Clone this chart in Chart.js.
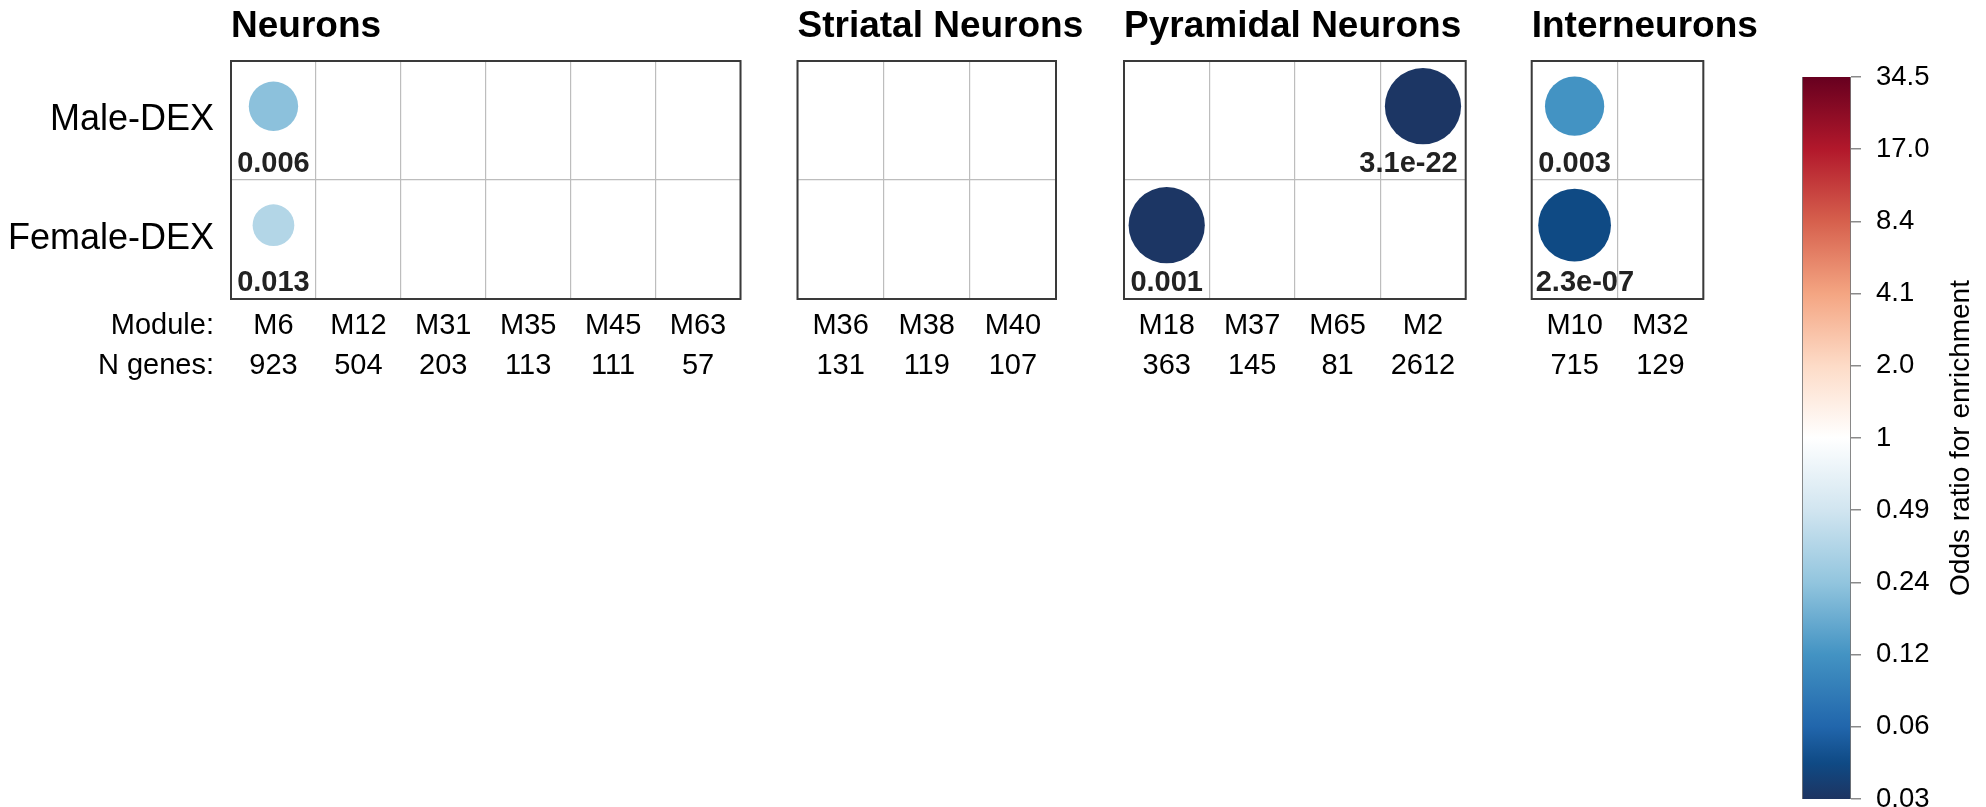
<!DOCTYPE html>
<html>
<head>
<meta charset="utf-8">
<title>Module enrichment by cell type</title>
<script src="https://cdn.jsdelivr.net/npm/chart.js@4.4.1/dist/chart.umd.min.js"></script>
<style>
  html, body { margin: 0; padding: 0; background: #ffffff; }
  #stage { position: relative; width: 1986px; height: 807px; overflow: hidden; background: #ffffff; }
  #stage canvas { position: absolute; top: 0; }
</style>
</head>
<body>
<div id="stage"></div>
<script>
// ---------------- data ----------------
const rowNames = ['Male-DEX', 'Female-DEX'];
const rowHeaderLabels = ['Module:', 'N genes:'];

const panelTitles = ['Neurons', 'Striatal Neurons', 'Pyramidal Neurons', 'Interneurons'];

const neuronModules = ['M6', 'M12', 'M31', 'M35', 'M45', 'M63'];
const neuronGenes = [923, 504, 203, 113, 111, 57];

const striatalModules = ['M36', 'M38', 'M40'];
const striatalGenes = [131, 119, 107];

const pyramidalModules = ['M18', 'M37', 'M65', 'M2'];
const pyramidalGenes = [363, 145, 81, 2612];

const interModules = ['M10', 'M32'];
const interGenes = [715, 129];

// significant overlaps: module, comparison, odds ratio, p-value
const hitModules = ['M6', 'M6', 'M2', 'M18', 'M10', 'M10'];
const hitRows = ['Male-DEX', 'Female-DEX', 'Male-DEX', 'Female-DEX', 'Male-DEX', 'Female-DEX'];
const hitOddsRatios = [0.23, 0.35, 0.03, 0.03, 0.12, 0.041];
const hitPValues = ['0.006', '0.013', '3.1e-22', '0.001', '0.003', '2.3e-07'];

const colorbarLabels = ['34.5', '17.0', '8.4', '4.1', '2.0', '1', '0.49', '0.24', '0.12', '0.06', '0.03'];
const colorbarTitle = 'Odds ratio for enrichment';

// ---------------- styling ----------------
const FONT = "'Liberation Sans', Arial, Helvetica, sans-serif";
// diverging colour ramp, low odds ratio (blue, 0) to high (red, 1)
const colorStops = [
  [0.00, '#1d3461'], [0.05, '#0f4a85'], [0.10, '#2166ac'], [0.20, '#4393c3'],
  [0.30, '#92c5de'], [0.40, '#d1e5f0'], [0.50, '#ffffff'], [0.60, '#fddbc7'],
  [0.70, '#f4a582'], [0.80, '#d6604d'], [0.90, '#b2182b'], [1.00, '#67001f']
];
const BUBBLE_MAX_R = 38.3;   // px radius at the colour-scale limit
const BUBBLE_LIFT = 0.12;    // bubbles sit slightly above row centre, p-value underneath
const LABEL_GAP = 8.5;       // p-value baseline above the row's lower edge
const GRID_COLOR = '#bdbdbd';
const FRAME_COLOR = '#3a3a3a';
const CANVAS_H = 420;
const PLOT_TOP = 61;
const PLOT_BOTTOM = 299;

const panels = [
  { title: panelTitles[0], modules: neuronModules,    genes: neuronGenes,    left: 231,    right: 740.5,  axisW: 231 },
  { title: panelTitles[1], modules: striatalModules,  genes: striatalGenes,  left: 797.5,  right: 1056,   axisW: 0 },
  { title: panelTitles[2], modules: pyramidalModules, genes: pyramidalGenes, left: 1124,   right: 1465.7, axisW: 0 },
  { title: panelTitles[3], modules: interModules,     genes: interGenes,     left: 1531.7, right: 1703.3, axisW: 0 }
];

// colour scale is symmetric in log(odds ratio)
const LOG_LIMIT = Math.log(parseFloat(colorbarLabels[0]));

function hexToRgb(h) {
  const n = parseInt(h.slice(1), 16);
  return [(n >> 16) & 255, (n >> 8) & 255, n & 255];
}
function rampColor(t) {
  t = Math.min(1, Math.max(0, t));
  let i = 0;
  while (i < colorStops.length - 2 && t > colorStops[i + 1][0]) i++;
  const [t0, c0] = colorStops[i];
  const [t1, c1] = colorStops[i + 1];
  const f = (t - t0) / (t1 - t0);
  const a = hexToRgb(c0), b = hexToRgb(c1);
  const c = a.map((v, k) => Math.round(v + (b[k] - v) * f));
  return `rgb(${c[0]},${c[1]},${c[2]})`;
}
function oddsColor(or) {
  return rampColor((Math.log(or) / LOG_LIMIT + 1) / 2);
}
function bubbleRadius(or) {
  return BUBBLE_MAX_R * Math.sqrt(Math.min(1, Math.abs(Math.log(or)) / LOG_LIMIT));
}

const stage = document.getElementById('stage');

// ---------------- module panels ----------------
panels.forEach((p, pIndex) => {
  const canvasLeft = Math.max(0, Math.floor(p.left - p.axisW - 12));
  const canvasRight = Math.ceil(p.right + 70);
  const canvas = document.createElement('canvas');
  canvas.width = canvasRight - canvasLeft;
  canvas.height = CANVAS_H;
  canvas.style.left = canvasLeft + 'px';
  stage.appendChild(canvas);

  const hits = hitModules.map((m, i) => i).filter(i => p.modules.includes(hitModules[i]));

  const decor = {
    id: 'panelDecor' + pIndex,
    afterDatasetsDraw(chart) {
      const { ctx, chartArea: a, scales } = chart;
      ctx.save();
      ctx.font = `bold 29px ${FONT}`;
      ctx.fillStyle = '#222222';
      ctx.textAlign = 'left';
      ctx.textBaseline = 'alphabetic';
      hits.forEach(i => {
        const cx = scales.x.getPixelForValue(p.modules.indexOf(hitModules[i]));
        const w = ctx.measureText(hitPValues[i]).width;
        let left = cx - w / 2;
        left = Math.max(a.left + 4, Math.min(left, a.right - 8 - w));
        const row = rowNames.indexOf(hitRows[i]);
        const y = scales.yb.getPixelForValue(row + 1) - LABEL_GAP;
        ctx.fillText(hitPValues[i], left, y);
      });
      ctx.restore();
    },
    afterDraw(chart) {
      const { ctx, chartArea: a, scales } = chart;
      ctx.save();
      // panel frame
      ctx.strokeStyle = FRAME_COLOR;
      ctx.lineWidth = 2;
      ctx.strokeRect(a.left, a.top, a.right - a.left, a.bottom - a.top);
      // panel title
      ctx.fillStyle = '#000000';
      ctx.font = `bold 37px ${FONT}`;
      ctx.textAlign = 'left';
      ctx.textBaseline = 'alphabetic';
      ctx.fillText(p.title, a.left, 37.3);
      // row headers for the module / gene-count lines
      if (p.axisW > 0) {
        ctx.font = `29px ${FONT}`;
        ctx.textAlign = 'right';
        ctx.textBaseline = 'middle';
        rowHeaderLabels.forEach((t, k) => {
          ctx.fillText(t, a.left - 17, scales.x.top + 7 + 20 + k * 40);
        });
      }
      ctx.restore();
    }
  };

  new Chart(canvas, {
    type: 'bubble',
    data: {
      labels: p.modules,
      datasets: [{
        data: hits.map(i => ({
          x: hitModules[i],
          y: rowNames.indexOf(hitRows[i]) + 0.5 - BUBBLE_LIFT,
          r: bubbleRadius(hitOddsRatios[i])
        })),
        backgroundColor: hits.map(i => oddsColor(hitOddsRatios[i])),
        borderWidth: 0,
        hoverBorderWidth: 0,
        xAxisID: 'x',
        yAxisID: 'yb'
      }]
    },
    options: {
      responsive: false,
      animation: false,
      events: [],
      layout: {
        autoPadding: false,
        padding: {
          left: p.left - p.axisW - canvasLeft,
          right: canvasRight - p.right,
          top: PLOT_TOP,
          bottom: 0
        }
      },
      plugins: { legend: { display: false }, tooltip: { enabled: false } },
      scales: {
        x: {
          type: 'category',
          offset: true,
          grid: { offset: true, color: GRID_COLOR, lineWidth: 1.2, drawTicks: false },
          border: { display: false },
          ticks: {
            padding: 7,
            autoSkip: false,
            maxRotation: 0,
            minRotation: 0,
            color: '#000000',
            font: { family: FONT, size: 29, lineHeight: '40px' },
            callback: (v, i) => [p.modules[i], String(p.genes[i])]
          },
          afterFit: (s) => { s.height = CANVAS_H - PLOT_BOTTOM; s.paddingLeft = 0; s.paddingRight = 0; }
        },
        y: {
          type: 'category',
          labels: rowNames,
          offset: true,
          grid: { offset: true, color: GRID_COLOR, lineWidth: 1.2, drawTicks: false },
          border: { display: false },
          ticks: {
            display: p.axisW > 0,
            padding: 17,
            color: '#000000',
            font: { family: FONT, size: 36 }
          },
          afterFit: (s) => { s.width = p.axisW; s.paddingTop = 0; s.paddingBottom = 0; }
        },
        yb: {
          type: 'linear',
          display: false,
          min: 0,
          max: rowNames.length,
          reverse: true
        }
      }
    },
    plugins: [decor]
  });
});

// ---------------- colour bar ----------------
const cbCanvas = document.createElement('canvas');
const CB_LEFT = 1780, CB_W = 206, CB_H = 807;
const CB_BAR_LEFT = 1802, CB_BAR_W = 49;
cbCanvas.width = CB_W;
cbCanvas.height = CB_H;
cbCanvas.style.left = CB_LEFT + 'px';
stage.appendChild(cbCanvas);

const cbTitle = {
  id: 'cbTitle',
  afterDraw(chart) {
    const { ctx, chartArea: a } = chart;
    ctx.save();
    ctx.translate(a.right + 110, (a.top + a.bottom) / 2);
    ctx.rotate(-Math.PI / 2);
    ctx.font = `28px ${FONT}`;
    ctx.fillStyle = '#000000';
    ctx.textAlign = 'center';
    ctx.textBaseline = 'middle';
    ctx.fillText(colorbarTitle, 0, 0);
    ctx.restore();
  }
};

new Chart(cbCanvas, {
  type: 'bar',
  data: {
    labels: [''],
    datasets: [{
      data: [[-LOG_LIMIT, LOG_LIMIT]],
      backgroundColor: (c) => {
        const { ctx, chartArea } = c.chart;
        if (!chartArea) return '#ffffff';
        const g = ctx.createLinearGradient(0, chartArea.bottom, 0, chartArea.top);
        colorStops.forEach(([t, col]) => g.addColorStop(t, col));
        return g;
      },
      borderColor: '#777777',
      borderWidth: { left: 1.2, right: 1.2, top: 0, bottom: 0 },
      borderSkipped: false,
      barPercentage: 1,
      categoryPercentage: 1
    }]
  },
  options: {
    responsive: false,
    animation: false,
    events: [],
    layout: { padding: { left: CB_BAR_LEFT - CB_LEFT, right: 0, top: 77, bottom: 8 } },
    plugins: { legend: { display: false }, tooltip: { enabled: false } },
    scales: {
      x: { display: false },
      y: {
        position: 'right',
        min: -LOG_LIMIT,
        max: LOG_LIMIT,
        grid: { drawOnChartArea: false, drawTicks: true, tickLength: 10, color: '#8a8a8a', lineWidth: 1.5 },
        border: { display: false },
        afterBuildTicks: (s) => {
          const n = colorbarLabels.length;
          s.ticks = colorbarLabels.map((_, k) => ({ value: LOG_LIMIT * (1 - 2 * k / (n - 1)) }));
        },
        ticks: {
          padding: 15,
          autoSkip: false,
          color: '#000000',
          font: { family: FONT, size: 27.5 },
          callback: (v, i) => colorbarLabels[i]
        },
        afterFit: (s) => {
          s.width = CB_W - (CB_BAR_LEFT - CB_LEFT) - CB_BAR_W;
          s.paddingTop = 0;
          s.paddingBottom = 0;
        }
      }
    }
  },
  plugins: [cbTitle]
});
</script>
</body>
</html>
